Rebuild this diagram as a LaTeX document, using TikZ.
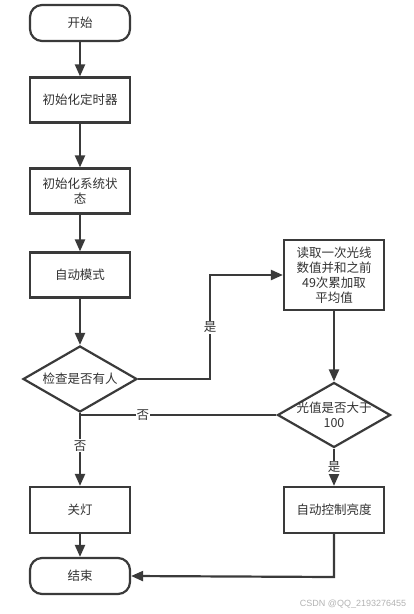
\documentclass[tikz,border=0pt]{standalone}
\usepackage{fontspec}
\setmainfont{Noto Sans CJK SC}
\usetikzlibrary{shapes.geometric,arrows.meta}
\definecolor{ln}{HTML}{3A3A3A}
\definecolor{tx}{HTML}{333333}
\tikzset{
  every node/.style={font=\fontsize{12.5}{15}\selectfont, text=tx},
  box/.style={draw=ln, line width=2.2pt, fill=white, minimum width=100pt, minimum height=45pt, inner sep=0pt, align=center},
  term/.style={box, rounded corners=12pt, minimum height=36pt},
  dia/.style={draw=ln, line width=2.2pt, fill=white, diamond, inner sep=0pt},
  conn/.style={draw=ln, line width=2.2pt, -{Triangle[width=10pt,length=12pt]}},
  plain/.style={draw=ln, line width=2.2pt},
  lab/.style={fill=white, inner sep=1pt},
  dtext/.style={align=center, inner sep=0pt},
}
\begin{document}
\begin{tikzpicture}[x=1pt,y=-1pt]
\useasboundingbox (0,0) rectangle (414,614);
\node[term] (start) at (80,23) {开始};
\node[box] (t1) at (80,100) {初始化定时器};
\node[box] (t2) at (80,191) {初始化系统状\\态};
\node[box] (auto) at (80,275) {自动模式};
\node[dia, minimum width=114pt, minimum height=66pt] (d1) at (80,379) {};
\node[dtext] (d1t) at (d1) {检查是否有人};
\node[box, minimum height=70pt] (read) at (334,275) {读取一次光线\\数值并和之前\\49次累加取\\平均值};
\node[dia, minimum width=113pt, minimum height=65pt] (d2) at (334,415) {};
\node[dtext] (d2t) at (d2) {光值是否大于\\100};
\node[box, minimum height=46pt] (off) at (80,510) {关灯};
\node[box, minimum height=46pt] (ctrl) at (334,510) {自动控制亮度};
\node[term] (end) at (80,576) {结束};
\coordinate (c1) at (210,379);
\coordinate (c2) at (210,275);
\coordinate (j) at (80,415);
\coordinate (c3) at (334,577);

\draw[conn] (start) -- (t1);
\draw[conn] (t1) -- (t2);
\draw[conn] (t2) -- (auto);
\draw[conn] (auto) -- (d1);
\draw[conn] (d1.east) -- (c1) -- node[lab, pos=0.5] {是} (c2) -- (read.west);
\draw[conn] (read) -- (d2);
\draw[plain] (d2.west) -- node[lab, pos=0.68] {否} (j);
\draw[conn] (d1.south) -- node[lab, pos=0.45] {否} (off.north);
\draw[conn] (d2.south) -- node[lab, pos=0.5] {是} (ctrl.north);
\draw[conn] (off) -- (end);
\draw[conn] (ctrl.south) -- (c3) -- (end.east);
\node[text=gray!60, font=\fontsize{9}{10}\selectfont\fontspec{Liberation Sans}] (wm) at (353,604) {CSDN @QQ\_2193276455};
\end{tikzpicture}
\end{document}
